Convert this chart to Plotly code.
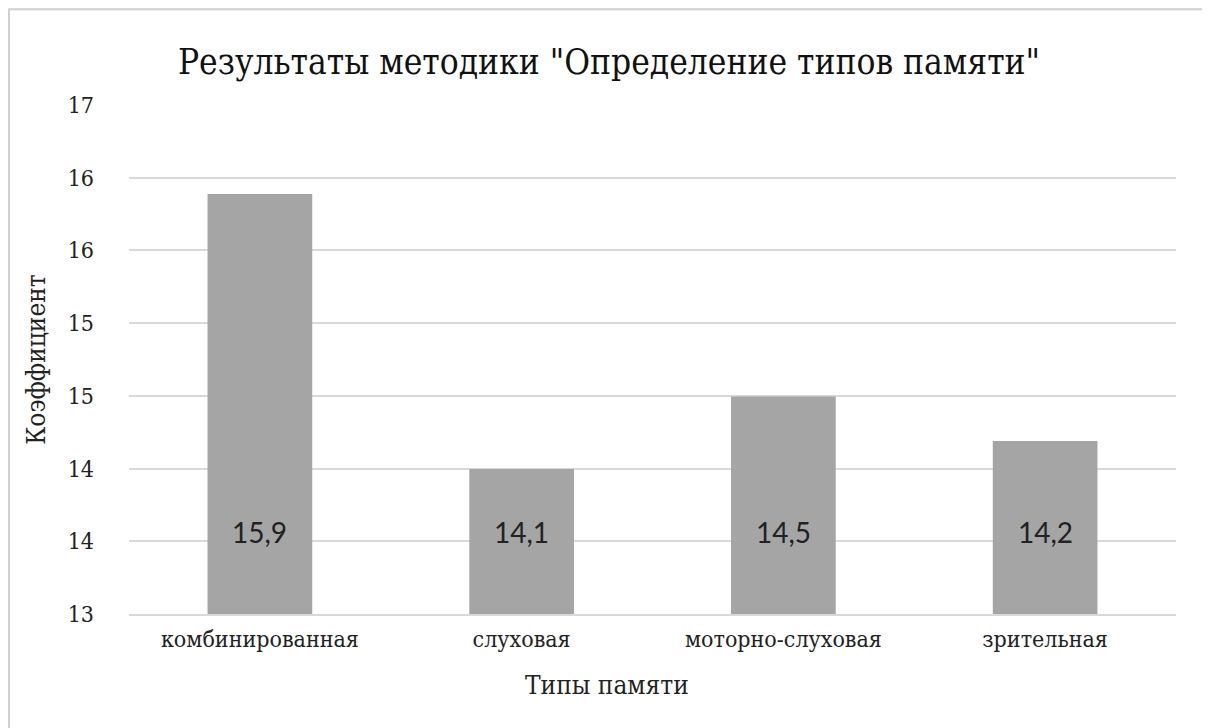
import plotly.graph_objects as go

categories = ["комбинированная", "слуховая", "моторно-слуховая", "зрительная"]
bar_values = [16.30, 14.14, 14.71, 14.36]
label_texts = ["15,9", "14,1", "14,5", "14,2"]
y_min, y_max = 13, 17
n_intervals = 7
y_tick_labels = ["13", "14", "14", "15", "15", "16", "16", "17"]
y_tick_vals = [y_min + i * (y_max - y_min) / n_intervals for i in range(n_intervals + 1)]
x_title = "Типы памяти"

serif = "DejaVu Serif Condensed, DejaVu Serif"

fig = go.Figure()
fig.add_trace(go.Bar(
    x=categories, y=bar_values,
    marker=dict(color="#a5a5a5", line=dict(width=0)),
    width=0.4, hoverinfo="skip",
))

for c, t in zip(categories, label_texts):
    fig.add_annotation(x=c, y=y_min, yref="y", xref="x", text=t, showarrow=False,
                       yshift=82, font=dict(family="Lato", size=28, color="#222"))

# x-axis title, centred on the whole figure as in the original
fig.add_annotation(x=0.4566, xref="paper", y=0, yref="paper", yshift=-71,
                   xanchor="center", yanchor="middle", showarrow=False, text=x_title,
                   font=dict(family=serif, size=26, color="#222"))

fig.update_layout(
    width=1202, height=720,
    margin=dict(l=121, r=34, t=97, b=114),
    paper_bgcolor="white", plot_bgcolor="white",
    showlegend=False,
    title=dict(text='Результаты методики "Определение типов памяти"',
               x=0.5, xanchor="center", y=0.925, yanchor="middle",
               font=dict(family=serif, size=35, color="#111")),
    xaxis=dict(
        showgrid=False, showline=True, linecolor="#d9d9d9", linewidth=1.5,
        ticks="", ticklabelstandoff=4, tickfont=dict(family=serif, size=23, color="#222"),
    ),
    yaxis=dict(
        range=[y_min, y_max], tickvals=y_tick_vals, ticktext=y_tick_labels,
        showgrid=True, gridcolor="#d9d9d9", gridwidth=1.5, zeroline=False,
        showline=False, ticks="", ticklen=0, ticklabelstandoff=34,
        tickfont=dict(family=serif, size=23, color="#222"),
        title=dict(text="Коэффициент", font=dict(family=serif, size=26, color="#222"), standoff=14),
    ),
)

fig.add_shape(type="rect", xref="paper", yref="paper", x0=-0.1146, x1=1.0277, y0=-0.3, y1=1.188,
              line=dict(color="#d0d0d0", width=2), fillcolor="rgba(0,0,0,0)", layer="below")

fig.write_html("out.html")
